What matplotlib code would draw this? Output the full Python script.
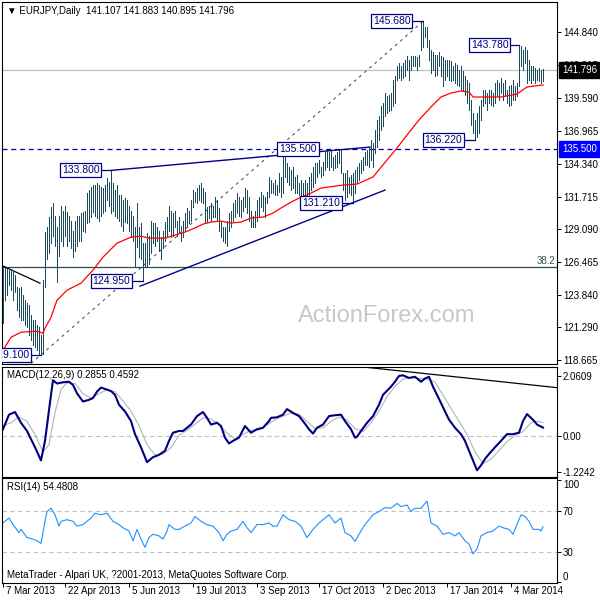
import numpy as np
import matplotlib
matplotlib.use("Agg")
import matplotlib.pyplot as plt
from matplotlib.transforms import ScaledTranslation

plt.rcParams['font.family'] = ['Liberation Sans', 'DejaVu Sans']

# daily bars, high / low (oldest first)
highs = [126.1, 126.0, 125.9, 126.0, 125.9, 125.7, 125.5, 124.5, 124.4, 124.5,
         123.9, 123.5, 123.2, 123.1, 122.3, 121.9, 121.9, 121.5, 121.3, 120.7,
         125.1, 128.9, 129.3, 130.1, 130.9, 131.2, 130.2, 129.3, 130.2, 131.0,
         130.6, 131.0, 130.5, 130.2, 129.8, 129.0, 129.8, 130.2, 130.2, 130.4,
         130.5, 130.6, 132.0, 132.2, 132.5, 132.6, 132.6, 132.8, 132.6, 132.5,
         132.4, 132.6, 133.2, 132.9, 133.8, 132.8, 132.2, 132.6, 131.8, 131.8,
         131.4, 131.6, 131.4, 131.0, 130.6, 130.2, 129.3, 131.2, 129.3, 129.6,
         128.0, 128.0, 128.8, 128.6, 129.8, 129.6, 129.6, 129.3, 129.0, 128.5,
         129.0, 129.7, 130.1, 131.0, 130.6, 130.4, 130.6, 129.8, 130.1, 129.4,
         129.8, 130.4, 130.8, 130.6, 131.4, 132.2, 132.1, 132.4, 132.6, 132.8,
         132.4, 132.1, 130.9, 131.0, 131.2, 131.0, 131.7, 131.4, 130.8, 129.8,
         129.3, 129.3, 129.8, 130.4, 130.6, 131.2, 131.4, 132.0, 131.7, 131.4,
         131.7, 132.4, 132.2, 131.7, 130.6, 130.2, 130.6, 131.4, 131.7, 132.1,
         131.8, 131.7, 132.1, 133.3, 133.0, 132.8, 133.0, 132.6, 133.6, 133.3,
         135.2, 135.5, 134.4, 134.1, 133.8, 134.1, 133.3, 133.4, 132.8, 133.0,
         132.8, 133.0, 132.8, 133.3, 133.6, 134.1, 134.4, 134.4, 134.6, 134.1,
         134.5, 135.3, 135.4, 135.3, 135.4, 134.9, 135.0, 135.3, 135.4, 135.4,
         133.6, 133.6, 133.8, 133.3, 133.4, 133.6, 133.8, 134.1, 134.4, 134.6,
         134.9, 135.3, 135.4, 135.7, 136.2, 136.0, 137.0, 137.8, 138.1, 138.9,
         139.2, 140.0, 139.7, 139.8, 140.0, 141.0, 141.3, 142.1, 142.4, 142.1,
         142.4, 142.6, 142.9, 142.6, 142.9, 142.9, 142.9, 142.8, 143.0, 145.6,
         145.68, 145.2, 145.2, 144.2, 143.4, 143.2, 143.0, 143.0, 143.2, 142.9,
         142.8, 142.6, 142.6, 142.6, 142.5, 142.1, 142.4, 142.2, 141.8, 142.1,
         141.7, 141.3, 141.0, 140.8, 139.4, 138.4, 137.8, 138.4, 138.9, 139.4,
         140.2, 140.2, 140.0, 140.2, 140.2, 140.0, 140.8, 141.0, 140.8, 141.2,
         140.8, 141.0, 140.2, 140.5, 140.6, 141.0, 140.5, 140.8, 143.78, 143.7,
         143.4, 143.6, 143.4, 142.6, 142.1, 142.1, 142.0, 141.8, 142.0, 141.8,
         141.883]
lows = [121.6, 123.5, 123.9, 124.7, 124.3, 123.5, 124.1, 122.7, 122.1, 121.9,
        121.9, 121.5, 121.3, 120.7, 120.3, 119.9, 119.7, 119.5, 119.2, 119.1,
        119.2, 124.5, 126.7, 127.2, 128.0, 128.6, 127.8, 124.9, 127.0, 128.2,
        127.8, 128.6, 127.8, 128.2, 127.6, 126.9, 127.4, 127.8, 128.2, 128.2,
        129.0, 128.9, 129.6, 129.7, 130.1, 130.5, 130.2, 130.0, 129.8, 130.2,
        130.4, 130.6, 131.4, 131.0, 130.4, 130.6, 130.2, 130.0, 129.8, 129.4,
        129.0, 129.7, 129.6, 129.0, 128.5, 128.2, 126.1, 127.7, 126.9, 126.7,
        124.95, 126.1, 126.1, 126.3, 127.2, 128.0, 127.8, 128.2, 127.4, 126.7,
        127.6, 128.2, 128.6, 129.0, 128.5, 128.6, 129.3, 128.6, 128.8, 128.2,
        128.5, 129.0, 129.3, 129.6, 129.8, 130.9, 131.3, 131.2, 131.4, 131.3,
        131.2, 129.6, 129.7, 130.0, 129.8, 130.1, 130.1, 129.8, 129.0, 128.5,
        128.2, 128.0, 127.8, 129.0, 129.3, 129.8, 130.1, 130.4, 130.2, 130.1,
        130.6, 130.9, 130.4, 129.8, 129.3, 129.3, 129.3, 129.8, 130.1, 130.9,
        130.6, 130.1, 131.2, 131.7, 132.0, 132.0, 131.8, 131.8, 132.1, 131.7,
        132.0, 133.3, 132.9, 132.6, 132.2, 132.4, 132.0, 132.0, 131.8, 131.7,
        131.4, 131.7, 131.4, 131.7, 132.2, 132.5, 132.8, 133.3, 133.6, 133.3,
        133.4, 133.8, 134.1, 133.8, 134.1, 133.8, 134.0, 134.1, 134.4, 133.6,
        132.2, 131.4, 131.7, 132.0, 131.8, 131.21, 132.0, 132.8, 133.0, 133.6,
        133.8, 134.2, 134.2, 134.1, 134.6, 134.1, 135.2, 135.7, 136.2, 137.0,
        137.3, 138.1, 138.4, 138.5, 138.6, 138.9, 139.2, 141.0, 141.2, 141.0,
        141.2, 141.3, 141.8, 141.0, 141.8, 142.1, 142.1, 141.8, 142.1, 143.4,
        143.65, 144.4, 143.6, 142.6, 141.6, 141.8, 141.3, 141.4, 142.1, 141.3,
        140.5, 141.0, 141.3, 141.0, 140.9, 141.0, 140.8, 140.6, 140.5, 140.2,
        140.1, 139.8, 139.2, 138.6, 137.4, 136.8, 136.22, 136.5, 136.8, 137.8,
        138.9, 139.2, 138.6, 139.2, 139.0, 138.9, 139.2, 139.7, 139.4, 140.0,
        139.4, 139.7, 139.2, 138.9, 139.0, 139.4, 139.4, 139.7, 140.5, 142.1,
        141.8, 142.4, 140.8, 141.0, 140.8, 141.0, 140.8, 141.0, 140.9, 140.8,
        140.895]

# moving average (red)
ma_idx = [0, 4, 9, 17, 20, 21, 24, 27, 32, 39, 45, 50, 57, 64, 69, 73, 81, 86, 91, 97,
          100, 104, 109, 114, 119, 124, 130, 135, 139, 144, 149, 154, 159, 170, 177,
          185, 192, 197, 202, 208, 214, 219, 224, 229, 233, 235, 239, 249, 257, 262, 270]
ma_val = [119.46, 120.50, 120.90, 120.98, 120.82, 121.22, 122.09, 123.45, 124.25, 124.81,
          125.85, 126.88, 128.00, 128.48, 128.56, 128.40, 128.40, 128.64, 128.88, 129.28,
          129.52, 129.68, 129.76, 129.60, 129.68, 130.00, 130.08, 130.40, 130.80, 131.27,
          131.67, 131.99, 132.39, 132.63, 132.71, 133.27, 134.63, 135.58, 136.62, 137.82,
          138.86, 139.65, 139.97, 140.13, 140.05, 139.65, 139.65, 139.65, 139.89, 140.45,
          140.61]

# MACD(12,26,9) main line and signal
macd_idx = [0, 3, 6, 9, 12, 16, 19, 21, 24, 25, 27, 30, 33, 35, 37, 40, 43, 45, 47, 49,
            54, 56, 58, 61, 64, 66, 69, 72, 75, 78, 81, 83, 85, 88, 90, 94, 97, 100, 102, 104,
            107, 109, 111, 113, 115, 118, 121, 124, 127, 130, 133, 134, 137, 140, 142, 145,
            148, 150, 153, 155, 157, 160, 163, 166, 169, 171, 174, 176, 177, 179, 182, 185,
            188, 190, 194, 196, 198, 200, 203, 206, 209, 211, 213, 215, 217, 219, 221, 223,
            226, 229, 231, 233, 235, 237, 239, 241, 243, 246, 249, 252, 255, 258, 260, 262,
            264, 266, 267, 270]
macd_val = [0.23, 0.73, 0.82, 0.45, 0.17, -0.39, -0.84, -0.17, 1.41, 1.91,
            1.80, 1.84, 1.86, 1.75, 1.46, 1.18, 1.24, 1.30, 1.52, 1.66,
            1.54, 1.41, 1.07, 0.84, 0.51, 0.06, -0.39, -0.90, -0.73, -0.65,
            -0.51, -0.17, 0.11, 0.17, 0.17, 0.39, 0.68, 0.82, 0.62, 0.39,
            0.45, 0.34, -0.06, -0.26, -0.17, -0.06, 0.34, 0.11, 0.23, 0.28,
            0.51, 0.62, 0.64, 0.73, 0.92, 0.79, 0.68, 0.51, 0.23, 0.08,
            0.28, 0.39, 0.68, 0.71, 0.73, 0.51, 0.23, -0.06, -0.03, 0.17,
            0.45, 0.68, 1.07, 1.41, 1.69, 1.86, 2.06, 2.08, 1.99, 2.03,
            1.86, 1.97, 2.03, 1.69, 1.41, 1.13, 0.84, 0.56, 0.28, 0.06,
            -0.17, -0.51, -0.84, -1.18, -1.01, -0.79, -0.62, -0.39, -0.17, 0.06,
            0.06, 0.11, 0.51, 0.75, 0.62, 0.48, 0.39, 0.2855]
sig_idx = [0, 4, 8, 12, 16, 20, 23, 26, 29, 32, 36, 40, 44, 48, 52, 56, 60, 64, 68, 72,
           76, 80, 84, 88, 92, 96, 100, 104, 108, 112, 116, 120, 124, 128, 132, 136, 140,
           144, 148, 152, 156, 160, 164, 168, 172, 176, 180, 184, 188, 192, 196, 200, 204,
           208, 212, 216, 220, 224, 228, 232, 236, 240, 244, 248, 252, 256, 260, 264, 268, 270]
sig_val = [0.35, 0.45, 0.65, 0.50, 0.05, -0.55, -0.30, 0.80, 1.60, 1.82,
           1.80, 1.45, 1.30, 1.45, 1.58, 1.52, 1.20, 0.85, 0.35, -0.30,
           -0.65, -0.62, -0.40, 0.02, 0.20, 0.40, 0.62, 0.58, 0.40, 0.10,
           -0.10, 0.05, 0.20, 0.20, 0.38, 0.55, 0.68, 0.78, 0.75, 0.50,
           0.25, 0.28, 0.50, 0.65, 0.55, 0.25, 0.15, 0.45, 0.85, 1.35,
           1.70, 1.95, 2.00, 1.98, 1.95, 1.85, 1.40, 0.95, 0.50, 0.05,
           -0.55, -0.95, -0.80, -0.50, -0.20, 0.02, 0.15, 0.45, 0.50, 0.4592]

# RSI(14)
rsi_idx = [0, 3, 5, 8, 9, 12, 15, 17, 19, 21, 22, 24, 26, 28, 29, 32, 35, 37, 40, 42,
           44, 46, 49, 52, 55, 58, 60, 63, 65, 67, 69, 71, 73, 75, 78, 80, 82, 83, 86, 88,
           91, 94, 96, 99, 102, 105, 108, 110, 112, 114, 117, 120, 122, 124, 127, 130, 133,
           135, 137, 140, 143, 146, 149, 152, 155, 158, 160, 163, 166, 169, 171, 174, 176,
           178, 181, 183, 185, 188, 191, 194, 197, 199, 202, 204, 206, 209, 212, 214, 217,
           220, 223, 226, 228, 231, 233, 235, 237, 239, 242, 245, 248, 250, 253, 255, 257,
           259, 261, 263, 265, 268, 269, 270]
rsi_val = [58.1, 62.9, 56.5, 48.6, 51.8, 43.8, 42.2, 40.6, 38.0, 59.7,
           69.3, 72.5, 66.1, 55.0, 59.7, 61.3, 59.7, 55.0, 56.5, 59.7,
           62.9, 67.7, 66.1, 67.7, 59.7, 56.5, 53.4, 50.2, 40.6, 51.8,
           42.2, 34.2, 43.8, 47.0, 45.4, 42.2, 50.2, 56.5, 51.8, 51.8,
           55.0, 58.1, 64.5, 59.7, 56.5, 55.0, 48.6, 40.6, 47.0, 50.2,
           51.8, 59.7, 53.4, 48.6, 56.5, 56.5, 58.1, 55.0, 55.0, 66.1,
           61.3, 59.7, 55.0, 43.8, 51.8, 58.1, 61.3, 66.1, 58.1, 62.9,
           48.6, 45.4, 39.9, 47.0, 56.5, 61.3, 66.1, 69.3, 73.2, 72.5,
           77.3, 74.1, 75.7, 69.3, 72.5, 72.5, 79.6, 58.1, 55.0, 47.0,
           48.6, 45.4, 48.6, 40.6, 37.4, 27.8, 32.6, 45.4, 48.6, 50.2,
           55.0, 53.4, 51.8, 47.0, 56.5, 66.1, 64.5, 59.7, 51.8, 51.8,
           50.2, 54.48]

price_ticks = [144.840, 142.215, 139.590, 136.965, 134.340, 131.715,
               129.090, 126.465, 123.840, 121.290, 118.665]
date_idx = [0, 31, 63, 95, 127, 158, 190, 222, 254]
date_lbl = ['7 Mar 2013', '22 Apr 2013', '5 Jun 2013', '19 Jul 2013', '3 Sep 2013',
            '17 Oct 2013', '2 Dec 2013', '17 Jan 2014', '4 Mar 2014']

last_price = 141.796
resist = 135.5
fib382 = 126.09

navy = '#000080'
bar_col = '#1b4a5a'
xlim = (-0.3, 277.2)

fig = plt.figure(figsize=(6, 6), dpi=100)
ax = fig.add_axes([0.004, 0.393, 0.925, 0.604])
m = fig.add_axes([0.004, 0.205, 0.925, 0.1833])
r = fig.add_axes([0.004, 0.028, 0.925, 0.175])

for a in (ax, m, r):
    a.set_xlim(*xlim)
    for s in a.spines.values():
        s.set_linewidth(0.8)
        s.set_color('black')
    a.yaxis.tick_right()
    a.tick_params(axis='y', direction='out', length=3, width=0.7, labelsize=7, pad=1)
    a.set_xticks([])

# ---- price panel
idx = np.arange(len(highs))
ax.set_ylim(118.35, 147.24)
ax.vlines(idx, lows, highs, colors=bar_col, lw=0.6, antialiased=False, zorder=3)
ax.plot(ma_idx, ma_val, color='red', lw=0.9, zorder=4)

ax.axhline(last_price, color='#c0c0c0', lw=0.9, zorder=1)
ax.axhline(resist, color='#0000a0', lw=0.9, ls=(0, (4, 3)), zorder=2)
ax.axhline(fib382, color='#2f4f4f', lw=0.9, zorder=2)
ax.text(276, fib382 + 0.12, '38.2', ha='right', va='bottom', fontsize=7, color='#2f4f4f')

# trend lines
ax.plot([14, 210], [118.4, 145.68], color='#404040', lw=0.7, ls=(0, (3, 4)), zorder=2)
ax.plot([0, 18.5], [126.17, 124.81], color='black', lw=0.9, zorder=2)
ax.plot([54, 183.5], [133.8, 135.66], color='#00008b', lw=1.0, zorder=4)
ax.plot([68.5, 191], [124.57, 132.23], color='#00008b', lw=1.0, zorder=4)

# swing labels
tags = [('145.680', 204.5, 145.68, 210), ('143.780', 253.5, 143.78, 258),
        ('136.220', 230.5, 136.22, 236), ('133.800', 49, 133.8, 54),
        ('131.210', 169.5, 131.21, 175), ('124.950', 64.5, 124.95, 70),
        ('119.100', 14, 119.1, 19)]
box = dict(boxstyle='square,pad=0.2', fc='white', ec=navy, lw=0.9)
for txt, xr, yv, xe in tags:
    ax.plot([xr, xe], [yv, yv], color=navy, lw=0.9, zorder=5)
    ax.text(xr - 0.8, yv, txt, ha='right', va='center', fontsize=7.5, color=navy,
            bbox=box, clip_on=True, zorder=6)
ax.text(147.5, resist, '135.500', ha='center', va='center', fontsize=7.5, color=navy,
        bbox=box, clip_on=True, zorder=6)

ax.text(0.693, 0.133, 'ActionForex.com', transform=ax.transAxes, fontsize=17,
        color='#c8c8c8', ha='center', va='center', zorder=0.5)

ax.set_yticks(price_ticks)
ax.set_yticklabels(['%.3f' % v for v in price_ticks])
yt = ax.get_yaxis_transform()
ax.text(1.009, last_price, '141.796', transform=yt, ha='left', va='center', fontsize=7,
        color='white', bbox=dict(boxstyle='square,pad=0.3', fc='black', ec='black'),
        clip_on=False, zorder=7)
ax.text(1.009, resist, '135.500', transform=yt, ha='left', va='center', fontsize=7,
        color='white', bbox=dict(boxstyle='square,pad=0.3', fc='#0000ff', ec='#0000ff'),
        clip_on=False, zorder=7)

fig.text(7 / 600, 1 - 11 / 600, '\u25bc EURJPY,Daily  141.107 141.883 140.895 141.796',
         fontsize=7, va='center', ha='left')

# ---- MACD panel
m.set_ylim(-1.41, 2.365)
m.axhline(0, color='#c0c0c0', lw=0.8, ls=(0, (4, 3)))
m.plot(sig_idx, sig_val, color='#b4b4b4', lw=0.8)
m.plot(macd_idx, macd_val, color=navy, lw=1.5)
m.plot([181, 277.2], [2.36, 1.655], color='black', lw=0.9)
m.set_yticks([2.0609, 0.0, -1.2242])
m.set_yticklabels(['2.0609', '0.00', '-1.2242'])
m.text(0.008, 0.925, 'MACD(12,26,9) 0.2855 0.4592', transform=m.transAxes,
       fontsize=7, va='center', ha='left')

# ---- RSI panel
r.set_ylim(-1, 102)
for lv in (70, 30):
    r.axhline(lv, color='#c0c0c0', lw=0.8, ls=(0, (4, 3)))
r.plot(rsi_idx, rsi_val, color='#1e90ff', lw=0.8)
r.set_yticks([100, 70, 30, 0])
r.set_yticklabels(['100', '70', '30', '0'])
r.get_yticklabels()[0].set_va('top')
r.get_yticklabels()[3].set_va('bottom')
r.text(0.008, 0.916, 'RSI(14) 54.4808', transform=r.transAxes, fontsize=7,
       va='center', ha='left')
r.text(0.008, 0.08, 'MetaTrader - Alpari UK, ?2001-2013, MetaQuotes Software Corp.',
       transform=r.transAxes, fontsize=7, va='center', ha='left')

r.set_xticks(date_idx)
r.set_xticklabels(date_lbl)
r.tick_params(axis='x', direction='out', length=3, width=0.7, labelsize=7, pad=-1)
off = ScaledTranslation(2.5 / 72, 0, fig.dpi_scale_trans)
for lab in r.get_xticklabels():
    lab.set_ha('left')
    lab.set_transform(lab.get_transform() + off)

fig.savefig('out.png', dpi=100)
